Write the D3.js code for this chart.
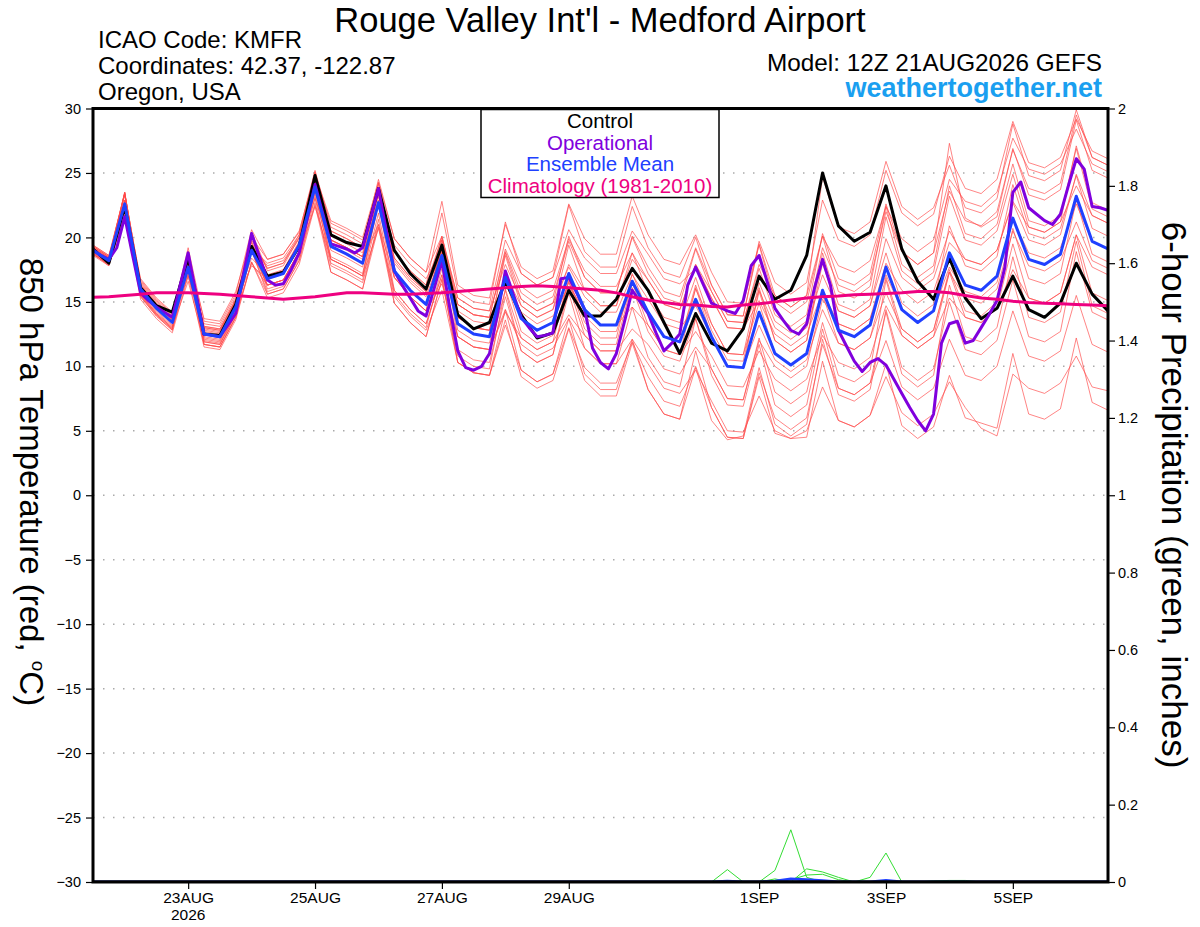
<!DOCTYPE html>
<html>
<head>
<meta charset="utf-8">
<script src="https://cdn.jsdelivr.net/npm/d3@7"></script>
<style>
body { margin: 0; background: #fff; }
svg text { font-family: "Liberation Sans", Arial, Helvetica, sans-serif; }
</style>
</head>
<body>
<div id="chart"></div>
<script>
// run start 12Z 21 Aug 2026, 6-hourly ensemble output, 3-hourly operational
const runStart = Date.UTC(2026, 7, 21, 12);
const HOUR = 3600e3;

const control = [19.1, 18.0, 22.4, 16.1, 14.7, 14.2, 18.4, 12.5, 12.4, 14.8, 19.3, 17.0, 17.3, 19.3, 24.8, 20.2, 19.6, 19.3, 23.8, 19.0, 17.2, 16.0, 19.4, 14.0, 12.9, 13.4, 16.6, 14.0, 12.2, 12.6, 15.9, 13.9, 13.9, 15.2, 17.6, 15.9, 13.4, 11.0, 14.1, 11.8, 11.2, 12.9, 17.0, 15.2, 15.9, 18.6, 25.0, 20.9, 19.7, 20.4, 24.0, 19.1, 16.6, 15.2, 18.4, 15.3, 13.7, 14.5, 17.0, 14.4, 13.8, 14.9, 18.0, 15.6, 14.3];

const operational = [19.0, 18.6, 18.3, 19.2, 21.6, 18.6, 15.7, 15.1, 14.6, 14.2, 13.8, 16.3, 18.8, 15.6, 12.5, 12.4, 12.3, 13.2, 14.1, 17.2,
  20.3, 18.5, 16.7, 16.3, 16.4, 17.5, 18.8, 21.4, 24.1, 21.8, 19.5, 19.3, 19.1, 18.8, 19.2, 21.5, 23.8, 20.5, 17.4, 16.3,
  15.3, 14.3, 13.9, 16.0, 18.2, 14.5, 11.2, 9.9, 9.7, 10.0, 11.0, 14.0, 17.4, 15.6, 13.8, 13.0, 12.3, 12.4, 12.6, 16.8,
  16.9, 15.7, 14.4, 11.4, 10.3, 9.8, 11.0, 13.4, 15.9, 15.0, 14.1, 12.6, 11.2, 11.8, 12.5, 16.3, 17.7, 16.3, 14.9, 14.6,
  14.3, 14.1, 15.1, 17.8, 18.6, 16.6, 14.5, 13.6, 12.8, 12.5, 13.3, 16.1, 18.3, 16.3, 12.8, 11.6, 10.4, 9.6, 10.3, 10.6,
  10.1, 9.0, 7.9, 6.8, 5.8, 5.0, 6.3, 11.8, 13.3, 13.5, 11.8, 12.0, 13.0, 14.0, 15.1, 17.7, 23.5, 24.3, 22.3, 21.8,
  21.3, 21.0, 21.8, 24.0, 26.1, 25.3, 22.4, 22.3, 22.1];

const ensMean = [19.0, 18.2, 22.6, 16.0, 14.5, 13.4, 17.7, 12.5, 12.3, 14.6, 19.0, 16.8, 17.2, 19.4, 23.9, 19.3, 18.7, 18.0, 22.7, 17.4, 15.9, 14.8, 18.6, 13.3, 12.5, 12.3, 16.9, 13.7, 12.8, 13.4, 17.2, 14.4, 13.2, 13.2, 16.6, 14.2, 12.3, 11.9, 15.2, 12.3, 10.0, 9.9, 14.2, 11.0, 10.1, 11.0, 15.9, 12.8, 12.3, 13.2, 17.7, 14.4, 13.4, 14.3, 18.8, 16.3, 15.9, 17.0, 21.5, 18.3, 17.9, 18.7, 23.2, 19.7, 19.1];

const climatology = [15.35, 15.4, 15.5, 15.6, 15.7, 15.7, 15.7, 15.65, 15.6, 15.5, 15.4, 15.3, 15.2, 15.3, 15.4, 15.55, 15.7, 15.7, 15.65, 15.6, 15.6, 15.65, 15.7, 15.8, 15.9, 16.0, 16.1, 16.2, 16.25, 16.2, 16.1, 16.0, 15.9, 15.7, 15.4, 15.15, 14.95, 14.8, 14.75, 14.65, 14.6, 14.75, 14.85, 15.0, 15.15, 15.3, 15.4, 15.45, 15.55, 15.6, 15.65, 15.7, 15.8, 15.8, 15.7, 15.5, 15.3, 15.2, 15.05, 14.95, 14.9, 14.85, 14.8, 14.75, 14.7];

const members = [
  [19.3,18.5,23.4,16.5,15.0,13.9,18.9,12.9,12.7,15.0,20.4,17.4,17.8,20.0,25.0,20.1,19.5,18.8,24.2,18.9,17.4,16.3,21.9,15.8,15.0,14.8,21.2,17.2,16.3,16.9,22.5,18.9,17.7,17.7,22.4,19.2,17.3,16.9,20.0,16.3,14.0,13.9,19.5,15.5,14.6,15.5,24.7,20.8,20.3,21.2,25.9,22.4,21.4,22.3,25.6,22.3,21.9,23.0,28.8,24.8,24.4,25.2,29.9,26.2,25.6],
  [18.8,17.8,21.7,15.6,14.1,13.0,16.6,11.9,11.7,14.0,18.0,16.3,16.7,18.9,22.4,18.3,17.7,17.0,20.7,15.9,14.4,13.3,17.1,12.3,11.5,11.3,14.4,11.7,10.8,11.4,13.7,11.4,10.2,10.2,12.1,10.2,8.3,7.9,9.7,7.3,5.0,4.9,7.7,5.0,4.4,5.0,8.4,5.8,5.3,6.2,9.2,6.4,5.4,6.3,8.8,6.8,5.2,4.6,9.4,8.3,7.9,8.7,10.8,8.4,8.1],
  [19.2,18.4,23.4,16.6,15.1,14.0,19.2,13.5,13.3,15.6,20.6,18.3,18.7,20.4,25.2,20.8,20.2,19.5,24.5,19.9,18.4,17.3,22.8,16.3,15.5,15.3,21.0,17.7,16.8,17.4,22.6,19.9,18.7,18.7,23.2,20.2,18.3,17.9,20.2,17.3,15.0,14.9,19.4,15.0,14.1,15.0,20.1,15.8,15.3,16.2,22.4,17.9,16.9,17.8,24.0,20.3,19.9,21.0,25.7,21.3,20.9,21.7,26.9,22.2,21.6],
  [18.7,17.9,22.1,15.2,13.7,12.6,17.0,11.5,11.3,13.6,18.1,15.6,16.0,18.2,22.7,17.8,17.2,16.5,21.0,15.4,13.9,12.8,15.9,10.3,9.5,9.3,13.2,9.7,8.8,9.4,13.0,9.9,8.7,8.7,11.9,9.2,7.3,6.9,10.0,6.8,4.5,4.4,9.5,6.0,5.1,6.0,11.7,8.3,7.8,8.7,12.0,8.4,7.4,8.3,12.1,9.3,8.9,10.0,14.3,10.8,10.4,11.2,15.5,11.7,11.1],
  [19.4,18.6,22.5,16.7,15.2,14.1,17.2,12.8,12.6,14.9,18.4,17.0,17.4,19.6,23.6,19.8,19.2,18.5,22.5,18.0,16.5,15.4,18.8,14.3,13.5,13.3,17.1,14.7,13.8,14.4,17.9,15.9,14.7,14.7,18.3,16.7,14.8,14.4,17.9,15.8,13.5,13.4,17.9,15.5,14.6,15.5,20.1,17.8,17.3,18.2,22.4,19.9,18.9,19.8,24.5,22.8,22.4,23.5,27.7,25.3,24.9,25.7,28.4,25.7,25.1],
  [19.0,18.2,23.3,15.7,14.2,13.1,18.2,12.0,11.8,14.1,19.0,15.8,16.2,18.4,23.6,18.0,17.4,16.7,21.9,15.6,14.1,13.0,17.6,11.3,10.5,10.3,15.4,11.2,10.3,10.9,16.2,12.4,11.2,11.2,16.1,12.7,10.8,10.4,13.7,9.8,7.5,7.4,12.2,8.0,7.1,8.0,13.4,9.3,8.8,9.7,16.7,12.4,11.4,12.3,17.3,13.8,13.4,14.5,19.5,15.3,14.9,15.7,20.2,15.7,15.1],
  [18.8,18.0,22.8,16.2,14.7,13.6,18.3,13.1,12.9,15.2,19.8,17.6,18.0,20.2,25.1,20.5,19.9,19.2,23.7,18.4,16.9,15.8,20.1,14.8,14.0,13.8,18.9,15.7,14.8,15.4,19.7,16.9,15.7,15.7,20.1,17.7,15.8,15.4,19.2,16.3,14.0,13.9,19.7,16.5,15.6,16.5,22.9,19.8,19.3,20.2,25.2,21.9,20.9,21.8,26.3,23.8,23.4,24.5,29.0,25.8,25.4,26.2,29.2,26.7,26.1],
  [19.2,18.4,23.5,15.8,14.3,13.2,18.8,12.1,11.9,14.2,19.7,16.0,16.4,18.6,24.4,18.3,17.7,17.0,22.7,15.9,14.4,13.3,17.1,10.3,9.5,9.3,14.4,9.7,8.8,9.4,13.7,9.4,8.2,8.2,12.1,8.2,6.3,5.9,11.2,6.8,4.5,4.4,9.2,4.8,4.4,4.5,10.4,5.8,5.3,6.2,10.2,5.4,4.4,5.3,9.3,6.0,5.6,5.2,11.0,6.3,5.9,6.7,12.2,7.2,6.6],
  [18.7,17.9,21.8,15.5,14.0,12.9,17.2,12.3,12.1,14.4,19.0,17.1,17.5,19.7,24.1,19.8,19.2,18.5,23.2,18.2,16.7,15.6,19.8,14.8,14.0,13.8,19.1,16.2,15.3,15.9,19.9,17.4,16.2,16.2,18.8,16.7,14.8,14.4,17.9,15.3,13.0,12.9,15.9,13.0,12.1,13.0,17.1,14.3,13.8,14.7,19.9,16.9,15.9,16.8,20.5,18.3,17.9,19.0,22.7,19.8,19.4,20.2,24.9,21.7,21.1],
  [19.1,18.3,23.5,16.3,14.8,13.7,17.5,11.7,11.5,13.8,18.1,15.3,15.7,17.9,22.5,17.3,16.7,16.0,20.8,14.9,13.4,12.3,16.7,10.8,10.0,9.8,16.0,12.2,11.3,11.9,16.8,13.4,12.2,12.2,17.2,14.2,12.3,11.9,16.3,12.8,10.5,10.4,15.8,12.0,11.1,12.0,18.0,14.3,13.8,14.7,18.8,14.9,13.9,14.8,20.9,17.8,17.4,18.5,24.1,20.3,19.9,20.7,24.8,20.7,20.1],
  [18.9,18.1,21.7,16.1,14.6,13.5,17.5,13.3,13.1,15.4,19.2,18.0,18.4,20.2,24.7,21.1,20.5,19.8,23.7,19.4,17.9,16.8,19.1,14.8,14.0,13.8,16.4,14.2,13.3,13.9,16.2,14.4,13.2,13.2,14.6,13.2,11.3,10.9,12.7,10.8,8.5,8.4,11.2,9.0,8.1,9.0,12.4,10.3,9.8,10.7,14.7,12.4,11.4,12.3,15.3,13.8,13.4,14.5,17.5,15.3,14.9,15.7,20.2,17.7,17.1],
  [19.4,18.6,23.4,16.4,14.9,13.8,18.3,12.7,12.5,14.8,18.9,16.3,16.7,18.9,23.3,18.3,17.7,17.0,22.6,16.9,15.4,14.3,19.5,13.8,13.0,12.8,18.8,15.2,14.3,14.9,20.1,16.9,15.7,15.7,20.0,17.2,15.3,14.9,19.1,15.8,13.5,13.4,17.6,14.0,13.1,14.0,20.3,16.8,16.3,17.2,22.6,18.9,17.9,18.8,27.3,21.5,20.8,21.6,26.9,23.3,22.9,23.7,29.1,25.2,24.6],
  [18.8,18.0,23.5,15.4,13.9,12.8,18.9,12.2,12.0,14.3,20.3,17.0,17.4,19.6,25.0,19.8,19.2,18.5,24.2,17.4,15.9,14.8,19.1,12.3,11.5,11.3,15.9,11.2,10.3,10.9,15.7,11.4,10.2,10.2,14.6,10.7,8.8,8.4,13.7,9.3,7.0,6.9,11.7,7.0,6.1,7.0,12.9,8.3,7.8,8.7,14.2,9.4,8.4,9.3,16.3,12.3,11.9,13.0,18.5,13.8,13.4,14.2,19.7,14.7,14.1],
  [19.3,18.5,22.9,16.8,15.3,14.2,18.4,13.7,13.5,15.8,20.0,18.3,18.7,20.5,24.9,21.3,20.7,20.0,24.3,19.9,18.4,17.3,20.1,15.3,14.5,14.3,17.9,15.2,14.3,14.9,17.7,15.4,14.2,14.2,17.1,15.2,13.3,12.9,14.7,12.3,10.0,9.9,13.2,10.5,9.6,10.5,14.4,11.8,11.3,12.2,15.7,12.9,11.9,12.8,17.3,15.3,14.9,16.0,20.5,17.8,17.4,18.2,21.2,18.2,17.6],
  [18.6,17.8,22.9,15.4,13.9,12.8,17.8,11.7,11.5,13.8,19.4,16.3,16.7,18.9,24.5,19.0,18.4,17.7,23.6,17.4,15.9,14.8,19.0,12.8,12.0,11.8,16.8,12.7,11.8,12.4,16.6,12.9,11.7,11.7,16.5,13.2,11.3,10.9,16.1,12.3,10.0,9.9,16.1,12.0,11.1,12.0,18.8,14.8,14.3,15.2,21.6,17.4,16.4,17.3,23.2,19.8,19.4,20.5,24.9,20.8,20.4,21.2,27.1,22.7,22.1],
  [19.1,18.3,22.2,16.2,14.7,13.6,17.6,13.0,12.8,15.1,19.4,17.8,18.2,20.0,24.5,20.5,19.9,19.2,23.6,18.9,17.4,16.3,20.0,15.3,14.5,14.3,19.8,17.2,16.3,16.9,20.6,18.4,17.2,17.2,20.5,18.7,16.8,16.4,17.6,15.3,13.0,12.9,15.1,12.5,11.6,12.5,15.8,13.3,12.8,13.7,17.1,14.4,13.4,14.3,17.7,15.8,15.4,16.5,21.4,18.8,18.4,19.2,22.6,19.7,19.1],
  [18.9,18.1,23.4,15.6,14.1,13.0,18.1,11.7,11.5,13.8,19.0,15.6,16.0,18.2,23.1,17.3,16.7,16.0,21.4,14.9,13.4,12.3,16.8,10.3,9.5,9.3,13.6,9.2,8.3,8.9,12.9,8.9,7.7,7.7,11.8,8.2,6.3,5.9,9.9,5.8,4.3,4.6,9.9,5.5,4.6,5.5,12.1,7.8,7.3,8.2,14.4,9.9,8.9,9.8,15.0,11.3,10.9,12.0,16.7,12.3,11.9,12.7,18.9,14.2,13.6],
  [19.2,18.4,22.7,16.3,14.8,13.7,18.1,13.1,12.9,15.2,19.6,17.6,18.0,19.9,24.2,19.8,19.2,18.5,23.5,18.4,16.9,15.8,18.9,13.8,13.0,12.8,16.7,13.7,12.8,13.4,16.5,13.9,12.7,12.7,16.4,14.2,12.3,11.9,16.0,13.3,11.0,10.9,16.5,13.5,12.6,13.5,19.2,16.3,15.8,16.7,22.0,18.9,17.9,18.8,23.6,21.3,20.9,22.0,26.8,23.8,23.4,24.2,29.5,26.2,25.6],
  [18.7,17.9,22.8,15.5,14.0,12.9,17.8,11.9,11.7,14.0,19.2,16.3,16.7,18.9,23.8,18.5,17.9,17.2,22.9,16.9,15.4,14.3,19.8,13.8,13.0,12.8,18.6,14.7,13.8,14.4,19.4,15.9,14.7,14.7,18.8,15.7,13.8,13.4,16.9,13.3,11.0,10.9,14.9,11.0,10.1,11.0,15.6,11.8,11.3,12.2,16.9,12.9,11.9,12.8,17.5,14.3,13.9,15.0,20.7,16.8,16.4,17.2,22.9,18.7,18.1],
  [19.3,18.5,21.6,16.2,14.7,13.6,17.0,13.0,12.8,15.1,17.8,16.8,17.2,19.4,23.0,19.6,19.0,18.3,21.0,16.9,15.4,14.3,16.4,12.3,11.5,11.3,14.2,12.2,11.3,11.9,14.0,12.4,11.2,11.2,12.9,11.7,9.8,9.4,11.5,9.8,7.5,7.4,12.0,10.0,9.1,10.0,15.2,13.3,12.8,13.7,18.0,15.9,14.9,15.8,19.6,18.3,17.9,19.0,22.8,20.8,20.4,21.2,24.0,21.7,21.1]
];

// 6-hour precipitation (inches); members with no rain are not listed
const precipMembers = [
  [0,0,0,0,0,0,0,0,0,0,0,0,0,0,0,0,0,0,0,0,0,0,0,0,0,0,0,0,0,0,0,0,0,0,0,0,0,0,0,0,0.032,0,0,0.03,0.135,0.012,0,0,0,0,0,0,0,0,0,0,0,0,0,0,0,0,0,0,0],
  [0,0,0,0,0,0,0,0,0,0,0,0,0,0,0,0,0,0,0,0,0,0,0,0,0,0,0,0,0,0,0,0,0,0,0,0,0,0,0,0,0,0,0,0.008,0,0.034,0.026,0.012,0,0,0,0,0,0,0,0,0,0,0,0,0,0,0,0,0],
  [0,0,0,0,0,0,0,0,0,0,0,0,0,0,0,0,0,0,0,0,0,0,0,0,0,0,0,0,0,0,0,0,0,0,0,0,0,0,0,0,0,0,0,0,0.006,0.018,0.02,0.006,0,0,0,0,0,0,0,0,0,0,0,0,0,0,0,0,0],
  [0,0,0,0,0,0,0,0,0,0,0,0,0,0,0,0,0,0,0,0,0,0,0,0,0,0,0,0,0,0,0,0,0,0,0,0,0,0,0,0,0,0,0,0,0,0,0,0,0,0.012,0.075,0,0,0,0,0,0,0,0,0,0,0,0,0,0],
  [0,0,0,0,0,0,0,0,0,0,0,0,0,0,0,0,0,0,0,0,0,0,0,0,0,0,0,0,0,0,0,0,0,0,0,0,0,0,0,0,0,0,0,0,0,0,0,0,0,0,0,0,0,0.003,0.004,0.004,0,0,0,0,0,0,0,0,0]
];
const precipMean = [0,0,0,0,0,0,0,0,0,0,0,0,0,0,0,0,0,0,0,0,0,0,0,0,0,0,0,0,0,0,0,0,0,0,0,0,0,0,0,0,0.002,0,0,0.002,0.008,0.006,0.003,0,0,0,0.004,0,0,0,0,0,0,0,0,0,0,0,0,0,0];
const precipControl = [0,0,0,0,0,0,0,0,0,0,0,0,0,0,0,0,0,0,0,0,0,0,0,0,0,0,0,0,0,0,0,0,0,0,0,0,0,0,0,0,0,0,0,0,0,0,0,0,0,0,0,0,0,0,0,0,0,0,0,0,0,0,0,0,0];

const tempTicks = [-30, -25, -20, -15, -10, -5, 0, 5, 10, 15, 20, 25, 30];
const precipTicks = [0, 0.2, 0.4, 0.6, 0.8, 1, 1.2, 1.4, 1.6, 1.8, 2];
const dateTicks = ["2026-08-23", "2026-08-25", "2026-08-27", "2026-08-29", "2026-09-01", "2026-09-03", "2026-09-05"];
const dateLabels = ["23AUG", "25AUG", "27AUG", "29AUG", "1SEP", "3SEP", "5SEP"];
const legendItems = [
  { label: "Control", color: "#000000" },
  { label: "Operational", color: "#8000dd" },
  { label: "Ensemble Mean", color: "#2040ff" },
  { label: "Climatology (1981-2010)", color: "#ee0080" }
];

const W = 1200, H = 927;
const plot = { left: 93, right: 1108, top: 108.5, bottom: 882 };

const svg = d3.select("#chart").append("svg")
  .attr("width", W).attr("height", H);

const x = d3.scaleUtc()
  .domain([new Date(runStart), new Date(runStart + 384 * HOUR)])
  .range([plot.left, plot.right]);
const yT = d3.scaleLinear().domain([-30, 30]).range([plot.bottom, plot.top]);
const yP = d3.scaleLinear().domain([0, 2]).range([plot.bottom, plot.top]);

const t6 = i => new Date(runStart + i * 6 * HOUR);
const t3 = i => new Date(runStart + i * 3 * HOUR);

svg.append("clipPath").attr("id", "plotclip")
  .append("rect")
  .attr("x", plot.left).attr("y", plot.top - 2)
  .attr("width", plot.right - plot.left).attr("height", plot.bottom - plot.top + 2);

// dotted grid at the temperature ticks
svg.append("g").selectAll("line")
  .data(tempTicks.slice(1, -1))
  .join("line")
  .attr("x1", plot.left).attr("x2", plot.right)
  .attr("y1", d => yT(d)).attr("y2", d => yT(d))
  .attr("stroke", "#aaa").attr("stroke-width", 1.5)
  .attr("stroke-dasharray", "1.5,8.5");

const series = svg.append("g").attr("clip-path", "url(#plotclip)");
const tLine = d3.line().x((d, i) => x(t6(i))).y(d => yT(d));
const opLine = d3.line().x((d, i) => x(t3(i))).y(d => yT(d));
const pLine = d3.line().x((d, i) => x(t6(i))).y(d => yP(d));

// ensemble members
series.append("g").selectAll("path")
  .data(members)
  .join("path")
  .attr("d", tLine)
  .attr("fill", "none")
  .attr("stroke", "#ff4a4a")
  .attr("stroke-opacity", 0.85)
  .attr("stroke-width", 0.8);

// precipitation
series.append("g").selectAll("path")
  .data(precipMembers)
  .join("path")
  .attr("d", pLine)
  .attr("fill", "none")
  .attr("stroke", "#33dd33")
  .attr("stroke-width", 1);

series.append("path").attr("d", pLine(precipMean))
  .attr("fill", "none").attr("stroke", "#2040ff").attr("stroke-width", 3);
series.append("path").attr("d", pLine(precipControl))
  .attr("fill", "none").attr("stroke", "#000").attr("stroke-width", 3);

// main temperature lines
series.append("path").attr("d", tLine(control))
  .attr("fill", "none").attr("stroke", "#000").attr("stroke-width", 3)
  .attr("stroke-linejoin", "round");
series.append("path").attr("d", opLine(operational))
  .attr("fill", "none").attr("stroke", "#8000dd").attr("stroke-width", 3)
  .attr("stroke-linejoin", "round");
series.append("path").attr("d", tLine(ensMean))
  .attr("fill", "none").attr("stroke", "#2040ff").attr("stroke-width", 3)
  .attr("stroke-linejoin", "round");
series.append("path").attr("d", tLine(climatology))
  .attr("fill", "none").attr("stroke", "#ee0080").attr("stroke-width", 3);

// frame
svg.append("rect")
  .attr("x", plot.left).attr("y", plot.top)
  .attr("width", plot.right - plot.left).attr("height", plot.bottom - plot.top)
  .attr("fill", "none").attr("stroke", "#000").attr("stroke-width", 3);

// axes
const styleAxis = (g, size) => {
  g.select(".domain").remove();
  g.selectAll("line").attr("stroke", "#000").attr("stroke-width", 1.2);
  g.selectAll("text").attr("font-family", "Liberation Sans, Arial, sans-serif")
    .attr("font-size", size).attr("fill", "#000");
};

svg.append("g")
  .attr("transform", `translate(${plot.left - 1},0)`)
  .call(d3.axisLeft(yT).tickValues(tempTicks).tickSize(6).tickPadding(5))
  .call(g => styleAxis(g, 14.5));

svg.append("g")
  .attr("transform", `translate(${plot.right + 1},0)`)
  .call(d3.axisRight(yP).tickValues(precipTicks).tickSize(6).tickPadding(3)
    .tickFormat(d => String(d)))
  .call(g => styleAxis(g, 14.5));

svg.append("g")
  .attr("transform", `translate(0,${plot.bottom + 1})`)
  .call(d3.axisBottom(x).tickValues(dateTicks.map(d => new Date(d + "T00:00:00Z")))
    .tickSize(6).tickPadding(3)
    .tickFormat((d, i) => dateLabels[i]))
  .call(g => styleAxis(g, 15.5));

svg.append("text")
  .attr("x", x(new Date(dateTicks[0] + "T00:00:00Z"))).attr("y", 920)
  .attr("text-anchor", "middle").attr("font-size", 15.5)
  .text("2026");

// titles
svg.append("text").attr("x", 600).attr("y", 32)
  .attr("text-anchor", "middle").attr("font-size", 34.5)
  .text("Rouge Valley Int'l - Medford Airport");

const info = ["ICAO Code: KMFR", "Coordinates: 42.37, -122.87", "Oregon, USA"];
svg.append("g").selectAll("text")
  .data(info)
  .join("text")
  .attr("x", 98).attr("y", (d, i) => 48 + i * 26)
  .attr("font-size", 24)
  .text(d => d);

svg.append("text").attr("x", 1102).attr("y", 71)
  .attr("text-anchor", "end").attr("font-size", 24.3)
  .text("Model: 12Z 21AUG2026 GEFS");
svg.append("text").attr("x", 1102).attr("y", 97)
  .attr("text-anchor", "end").attr("font-size", 27).attr("font-weight", "bold")
  .attr("fill", "#1a9ff0")
  .text("weathertogether.net");

// axis titles
const leftTitle = svg.append("text")
  .attr("transform", "translate(20,482) rotate(90)")
  .attr("text-anchor", "middle").attr("font-size", 33);
leftTitle.append("tspan").text("850 hPa Temperature (red, ");
leftTitle.append("tspan").attr("dy", -12).attr("font-size", 19).text("o");
leftTitle.append("tspan").attr("dy", 12).text("C)");

svg.append("text")
  .attr("transform", "translate(1162,495) rotate(90)")
  .attr("text-anchor", "middle").attr("font-size", 35)
  .text("6-hour Precipitation (green, inches)");

// legend
const legend = svg.append("g");
legend.append("rect")
  .attr("x", 481).attr("y", 109.5).attr("width", 238).attr("height", 88)
  .attr("fill", "#fff").attr("stroke", "#000").attr("stroke-width", 1.5);
legend.selectAll("text")
  .data(legendItems)
  .join("text")
  .attr("x", 600).attr("y", (d, i) => 128 + i * 21.5)
  .attr("text-anchor", "middle").attr("font-size", 20.5)
  .attr("fill", d => d.color)
  .text(d => d.label);
</script>
</body>
</html>
